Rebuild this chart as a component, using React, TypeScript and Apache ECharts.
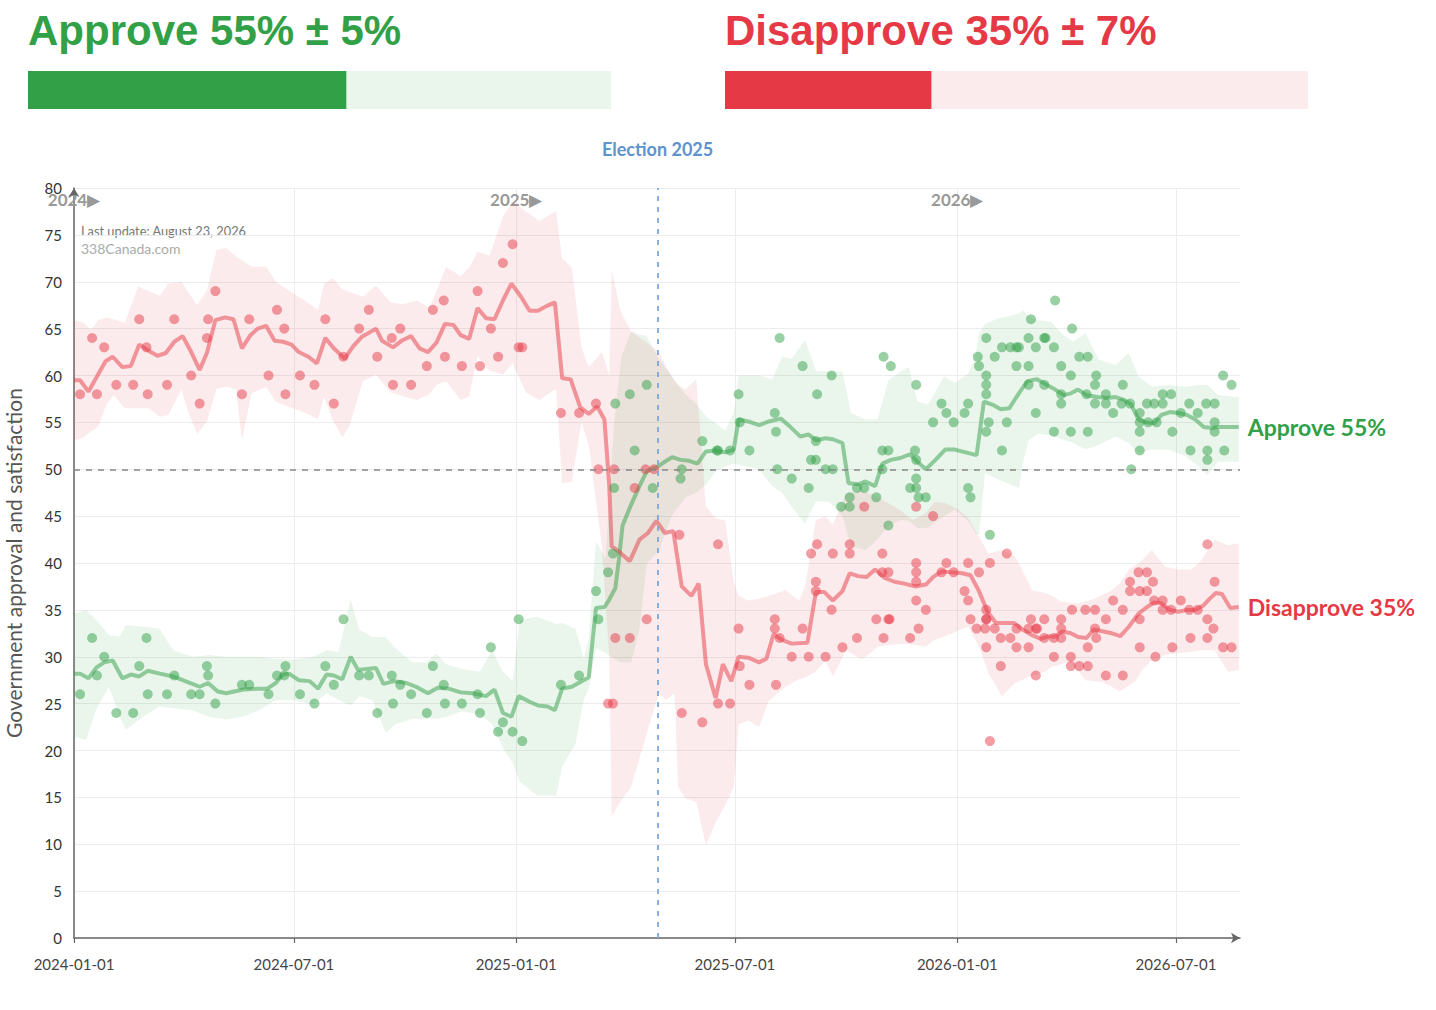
import React, { useEffect, useRef } from "react";
import * as echarts from "echarts";

const GREEN = "#31a046";
const RED = "#e63946";
const CHART_FONT = "Lato, 'Noto Sans', sans-serif";
const HEAD_FONT = "'Liberation Sans', Arial, sans-serif";

// Headline numbers
const approveNow = 54.6;
const approveMoe = 5;
const disapproveNow = 35.4;
const disapproveMoe = 7;

// Axes
const xStart = "2024-01-01";
const xEnd = "2026-08-23";
const xTickDates = ["2024-01-01", "2024-07-01", "2025-01-01", "2025-07-01", "2026-01-01", "2026-07-01"];
const yearMarks = ["2024-01-01", "2025-01-01", "2026-01-01"];
const electionDate = "2025-04-28";
const electionLabel = "Election 2025";
const majorityLine = 50;
const yTitle = "Government approval and satisfaction";
const lastUpdate = "Last update: August 23, 2026";
const sourceText = "338Canada.com";

// Polls
const approvePolls: [string, number][] = [
  ["2024-01-06", 26], ["2024-01-16", 32], ["2024-01-20", 28], ["2024-01-26", 30], ["2024-02-05", 24], ["2024-02-19", 24],
  ["2024-02-24", 29], ["2024-03-01", 32], ["2024-03-02", 26], ["2024-03-18", 26], ["2024-03-24", 28], ["2024-04-07", 26],
  ["2024-04-14", 26], ["2024-04-20", 29], ["2024-04-21", 28], ["2024-04-27", 25], ["2024-05-19", 27], ["2024-05-25", 27],
  ["2024-06-10", 26], ["2024-06-17", 28], ["2024-06-23", 28], ["2024-06-24", 29], ["2024-07-06", 26], ["2024-07-18", 25],
  ["2024-07-27", 29], ["2024-08-03", 27], ["2024-08-11", 34], ["2024-08-24", 28], ["2024-09-01", 28], ["2024-09-08", 24],
  ["2024-09-20", 28], ["2024-09-21", 25], ["2024-09-27", 27], ["2024-10-06", 26], ["2024-10-19", 24], ["2024-10-24", 29],
  ["2024-11-02", 27], ["2024-11-03", 25], ["2024-11-17", 25], ["2024-11-30", 26], ["2024-12-02", 24], ["2024-12-11", 31],
  ["2024-12-17", 22], ["2024-12-21", 23], ["2024-12-29", 22], ["2025-01-03", 34], ["2025-01-06", 21], ["2025-02-07", 27],
  ["2025-02-22", 28], ["2025-03-08", 37], ["2025-03-10", 34], ["2025-03-18", 39], ["2025-03-22", 41], ["2025-03-23", 48],
  ["2025-03-24", 57], ["2025-04-05", 58], ["2025-04-09", 52], ["2025-04-19", 59], ["2025-04-24", 48], ["2025-05-17", 49],
  ["2025-05-18", 50], ["2025-06-04", 53], ["2025-06-16", 52], ["2025-06-17", 52], ["2025-06-27", 52], ["2025-07-04", 58],
  ["2025-07-05", 55], ["2025-07-13", 52], ["2025-08-03", 56], ["2025-08-04", 54], ["2025-08-05", 50], ["2025-08-07", 64],
  ["2025-08-17", 49], ["2025-08-26", 61], ["2025-08-31", 48], ["2025-09-02", 51], ["2025-09-06", 51], ["2025-09-06", 53],
  ["2025-09-07", 58], ["2025-09-14", 50], ["2025-09-19", 60], ["2025-09-20", 50], ["2025-09-27", 46], ["2025-10-04", 46],
  ["2025-10-04", 47], ["2025-10-10", 48], ["2025-10-16", 48], ["2025-10-26", 47], ["2025-10-31", 52], ["2025-10-31", 50],
  ["2025-11-01", 62], ["2025-11-05", 52], ["2025-11-05", 44], ["2025-11-07", 61], ["2025-11-23", 48], ["2025-11-27", 52],
  ["2025-11-28", 59], ["2025-11-28", 51], ["2025-11-28", 49], ["2025-11-28", 48], ["2025-11-30", 47], ["2025-12-06", 47],
  ["2025-12-12", 55], ["2025-12-19", 57], ["2025-12-23", 56], ["2025-12-29", 55], ["2026-01-07", 56], ["2026-01-10", 57],
  ["2026-01-10", 48], ["2026-01-12", 47], ["2026-01-18", 62], ["2026-01-19", 61], ["2026-01-25", 64], ["2026-01-25", 60],
  ["2026-01-25", 59], ["2026-01-25", 58], ["2026-01-25", 54], ["2026-01-27", 55], ["2026-01-28", 43], ["2026-02-01", 62],
  ["2026-02-07", 63], ["2026-02-07", 52], ["2026-02-11", 55], ["2026-02-14", 63], ["2026-02-19", 63], ["2026-02-19", 61],
  ["2026-02-21", 63], ["2026-03-01", 64], ["2026-03-01", 61], ["2026-03-01", 59], ["2026-03-03", 66], ["2026-03-07", 63],
  ["2026-03-07", 56], ["2026-03-14", 64], ["2026-03-14", 59], ["2026-03-15", 64], ["2026-03-22", 63], ["2026-03-22", 54],
  ["2026-03-23", 68], ["2026-03-28", 61], ["2026-03-28", 58], ["2026-03-28", 57], ["2026-04-05", 60], ["2026-04-05", 54],
  ["2026-04-06", 65], ["2026-04-12", 62], ["2026-04-18", 58], ["2026-04-19", 62], ["2026-04-19", 54], ["2026-04-25", 59],
  ["2026-04-25", 57], ["2026-04-26", 60], ["2026-05-04", 58], ["2026-05-04", 57], ["2026-05-10", 56], ["2026-05-17", 57],
  ["2026-05-18", 59], ["2026-05-24", 57], ["2026-05-25", 50], ["2026-06-01", 56], ["2026-06-01", 55], ["2026-06-01", 54],
  ["2026-06-01", 52], ["2026-06-07", 57], ["2026-06-08", 55], ["2026-06-13", 57], ["2026-06-15", 55], ["2026-06-20", 57],
  ["2026-06-20", 58], ["2026-06-27", 58], ["2026-06-28", 54], ["2026-07-05", 56], ["2026-07-12", 57], ["2026-07-13", 52],
  ["2026-07-19", 56], ["2026-07-26", 57], ["2026-07-27", 52], ["2026-07-27", 51], ["2026-08-02", 57], ["2026-08-02", 55],
  ["2026-08-02", 54], ["2026-08-09", 60], ["2026-08-10", 52], ["2026-08-16", 59],
];

const disapprovePolls: [string, number][] = [
  ["2024-01-06", 58], ["2024-01-16", 64], ["2024-01-20", 58], ["2024-01-26", 63], ["2024-02-05", 59], ["2024-02-19", 59],
  ["2024-02-24", 66], ["2024-03-01", 63], ["2024-03-02", 58], ["2024-03-18", 59], ["2024-03-24", 66], ["2024-04-07", 60],
  ["2024-04-14", 57], ["2024-04-20", 64], ["2024-04-21", 66], ["2024-04-27", 69], ["2024-05-19", 58], ["2024-05-25", 66],
  ["2024-06-10", 60], ["2024-06-17", 67], ["2024-06-23", 65], ["2024-06-24", 58], ["2024-07-06", 60], ["2024-07-18", 59],
  ["2024-07-27", 66], ["2024-08-03", 57], ["2024-08-11", 62], ["2024-08-24", 65], ["2024-09-01", 67], ["2024-09-08", 62],
  ["2024-09-20", 64], ["2024-09-21", 59], ["2024-09-27", 65], ["2024-10-06", 59], ["2024-10-19", 61], ["2024-10-24", 67],
  ["2024-11-02", 68], ["2024-11-03", 62], ["2024-11-17", 61], ["2024-11-30", 69], ["2024-12-02", 61], ["2024-12-11", 65],
  ["2024-12-17", 62], ["2024-12-21", 72], ["2024-12-29", 74], ["2025-01-03", 63], ["2025-01-06", 63], ["2025-02-07", 56],
  ["2025-02-22", 56], ["2025-03-08", 57], ["2025-03-10", 50], ["2025-03-18", 25], ["2025-03-22", 25], ["2025-03-23", 50],
  ["2025-03-24", 32], ["2025-04-05", 32], ["2025-04-09", 48], ["2025-04-18", 50], ["2025-04-19", 34], ["2025-04-25", 50],
  ["2025-05-16", 43], ["2025-05-18", 24], ["2025-06-04", 23], ["2025-06-17", 42], ["2025-06-17", 25], ["2025-06-27", 25],
  ["2025-07-04", 33], ["2025-07-05", 29], ["2025-07-13", 27], ["2025-08-03", 34], ["2025-08-03", 33], ["2025-08-04", 27],
  ["2025-08-07", 32], ["2025-08-17", 30], ["2025-08-26", 33], ["2025-08-31", 30], ["2025-09-02", 41], ["2025-09-06", 38],
  ["2025-09-06", 37], ["2025-09-07", 42], ["2025-09-14", 30], ["2025-09-19", 35], ["2025-09-20", 41], ["2025-09-28", 31],
  ["2025-10-04", 42], ["2025-10-04", 41], ["2025-10-10", 32], ["2025-10-16", 46], ["2025-10-26", 34], ["2025-10-31", 41],
  ["2025-10-31", 39], ["2025-11-01", 32], ["2025-11-05", 39], ["2025-11-05", 34], ["2025-11-06", 34], ["2025-11-23", 32],
  ["2025-11-28", 46], ["2025-11-28", 40], ["2025-11-28", 39], ["2025-11-28", 38], ["2025-11-28", 36], ["2025-11-30", 33],
  ["2025-12-06", 35], ["2025-12-12", 45], ["2025-12-19", 39], ["2025-12-23", 40], ["2025-12-29", 39], ["2026-01-07", 37],
  ["2026-01-10", 40], ["2026-01-10", 36], ["2026-01-12", 34], ["2026-01-17", 33], ["2026-01-19", 39], ["2026-01-24", 33],
  ["2026-01-25", 35], ["2026-01-25", 34], ["2026-01-25", 34], ["2026-01-25", 31], ["2026-01-28", 40], ["2026-01-28", 21],
  ["2026-02-01", 33], ["2026-02-06", 32], ["2026-02-06", 29], ["2026-02-11", 41], ["2026-02-14", 32], ["2026-02-19", 33],
  ["2026-02-19", 31], ["2026-03-01", 33], ["2026-03-01", 31], ["2026-03-03", 34], ["2026-03-07", 33], ["2026-03-07", 28],
  ["2026-03-08", 33], ["2026-03-14", 34], ["2026-03-14", 32], ["2026-03-22", 32], ["2026-03-22", 30], ["2026-03-28", 34],
  ["2026-03-28", 33], ["2026-03-28", 32], ["2026-04-05", 30], ["2026-04-05", 29], ["2026-04-06", 35], ["2026-04-12", 29],
  ["2026-04-17", 35], ["2026-04-19", 29], ["2026-04-19", 31], ["2026-04-25", 35], ["2026-04-25", 33], ["2026-04-26", 32],
  ["2026-05-04", 34], ["2026-05-04", 28], ["2026-05-10", 36], ["2026-05-18", 35], ["2026-05-18", 28], ["2026-05-24", 38],
  ["2026-05-24", 37], ["2026-05-31", 39], ["2026-06-01", 37], ["2026-06-01", 34], ["2026-06-01", 31], ["2026-06-07", 39],
  ["2026-06-07", 37], ["2026-06-12", 38], ["2026-06-13", 36], ["2026-06-14", 30], ["2026-06-20", 36], ["2026-06-20", 35],
  ["2026-06-27", 35], ["2026-06-28", 31], ["2026-07-05", 36], ["2026-07-12", 35], ["2026-07-13", 32], ["2026-07-19", 35],
  ["2026-07-27", 42], ["2026-07-27", 34], ["2026-07-27", 32], ["2026-08-01", 33], ["2026-08-02", 38], ["2026-08-09", 31],
  ["2026-08-16", 31],
];

// Trend lines
const approveTrend: [string, number][] = [
  ["2024-01-01", 28.2], ["2024-01-06", 28.2], ["2024-01-13", 27.7], ["2024-01-20", 28.9], ["2024-01-26", 29.4], ["2024-02-02", 29.6],
  ["2024-02-10", 27.7], ["2024-02-17", 28.1], ["2024-02-24", 27.9], ["2024-03-02", 28.5], ["2024-03-12", 28.2], ["2024-03-23", 27.9],
  ["2024-03-31", 27.5], ["2024-04-14", 26.8], ["2024-04-21", 27.2], ["2024-04-29", 26.3], ["2024-05-06", 26.1], ["2024-05-20", 26.5],
  ["2024-06-02", 26.6], ["2024-06-09", 26.6], ["2024-06-16", 27.2], ["2024-06-22", 28.1], ["2024-06-27", 28.2], ["2024-07-05", 27.5],
  ["2024-07-14", 27.4], ["2024-07-21", 26.6], ["2024-07-28", 28.1], ["2024-08-03", 28.0], ["2024-08-10", 27.6], ["2024-08-17", 30.0],
  ["2024-08-23", 28.6], ["2024-09-07", 28.8], ["2024-09-13", 27.1], ["2024-09-22", 27.4], ["2024-10-02", 27.2], ["2024-10-10", 26.8],
  ["2024-10-20", 26.1], ["2024-10-28", 26.7], ["2024-11-06", 26.6], ["2024-11-16", 26.2], ["2024-11-26", 26.1], ["2024-12-07", 25.8],
  ["2024-12-14", 26.5], ["2024-12-21", 24.0], ["2024-12-28", 23.6], ["2025-01-03", 25.8], ["2025-01-12", 25.2], ["2025-01-19", 24.8],
  ["2025-01-27", 24.7], ["2025-02-02", 24.3], ["2025-02-08", 26.6], ["2025-02-16", 26.8], ["2025-02-23", 27.3], ["2025-03-02", 27.8],
  ["2025-03-08", 35.2], ["2025-03-15", 35.3], ["2025-03-19", 36.1], ["2025-03-24", 37.3], ["2025-03-27", 40.4], ["2025-03-30", 44.0],
  ["2025-04-06", 46.2], ["2025-04-13", 48.2], ["2025-04-19", 49.8], ["2025-04-27", 50.2], ["2025-05-04", 50.8], ["2025-05-10", 51.3],
  ["2025-05-17", 51.0], ["2025-05-24", 50.9], ["2025-05-31", 50.6], ["2025-06-07", 51.9], ["2025-06-15", 52.0], ["2025-06-23", 51.8],
  ["2025-06-30", 52.1], ["2025-07-04", 55.3], ["2025-07-12", 55.1], ["2025-07-21", 54.7], ["2025-07-29", 55.1], ["2025-08-08", 55.4],
  ["2025-08-16", 54.5], ["2025-08-24", 53.5], ["2025-08-31", 53.7], ["2025-09-06", 53.1], ["2025-09-14", 53.3], ["2025-09-20", 53.2],
  ["2025-09-28", 52.8], ["2025-10-03", 48.5], ["2025-10-11", 48.4], ["2025-10-17", 48.7], ["2025-10-25", 48.2], ["2025-10-31", 50.6],
  ["2025-11-07", 51.0], ["2025-11-15", 51.2], ["2025-11-23", 51.6], ["2025-11-29", 50.8], ["2025-12-06", 50.0], ["2025-12-14", 51.0],
  ["2025-12-22", 52.1], ["2025-12-30", 52.1], ["2026-01-08", 51.8], ["2026-01-17", 51.5], ["2026-01-23", 57.2], ["2026-01-30", 56.9],
  ["2026-02-06", 56.4], ["2026-02-13", 56.5], ["2026-02-21", 58.1], ["2026-02-28", 59.4], ["2026-03-08", 59.6], ["2026-03-16", 59.0],
  ["2026-03-23", 58.5], ["2026-03-30", 57.9], ["2026-04-05", 58.1], ["2026-04-11", 58.5], ["2026-04-18", 57.9], ["2026-04-27", 57.7],
  ["2026-05-05", 57.6], ["2026-05-12", 57.7], ["2026-05-19", 57.4], ["2026-05-25", 56.9], ["2026-05-31", 55.3], ["2026-06-06", 55.0],
  ["2026-06-13", 54.9], ["2026-06-19", 55.8], ["2026-06-26", 56.1], ["2026-07-03", 56.0], ["2026-07-10", 55.8], ["2026-07-17", 55.3],
  ["2026-07-24", 54.5], ["2026-07-31", 54.4], ["2026-08-05", 54.5], ["2026-08-12", 54.5], ["2026-08-19", 54.5], ["2026-08-22", 54.5],
];

const disapproveTrend: [string, number][] = [
  ["2024-01-01", 59.5], ["2024-01-06", 59.5], ["2024-01-13", 58.3], ["2024-01-20", 59.9], ["2024-01-27", 61.5], ["2024-02-02", 62.0],
  ["2024-02-10", 60.9], ["2024-02-17", 61.0], ["2024-02-24", 63.3], ["2024-03-02", 62.7], ["2024-03-10", 62.1], ["2024-03-17", 62.4],
  ["2024-03-24", 63.6], ["2024-03-31", 64.2], ["2024-04-07", 62.5], ["2024-04-14", 60.6], ["2024-04-20", 62.4], ["2024-04-27", 65.9],
  ["2024-05-05", 66.2], ["2024-05-12", 66.0], ["2024-05-19", 62.9], ["2024-05-26", 64.3], ["2024-06-01", 65.0], ["2024-06-08", 65.3],
  ["2024-06-15", 63.7], ["2024-06-22", 63.6], ["2024-06-29", 63.3], ["2024-07-05", 62.5], ["2024-07-13", 62.0], ["2024-07-20", 61.3],
  ["2024-07-27", 64.0], ["2024-08-03", 62.9], ["2024-08-12", 61.8], ["2024-08-19", 63.1], ["2024-08-26", 64.1], ["2024-09-07", 65.0],
  ["2024-09-12", 63.7], ["2024-09-21", 63.0], ["2024-09-28", 63.7], ["2024-10-06", 64.2], ["2024-10-13", 62.9], ["2024-10-20", 62.5],
  ["2024-10-27", 63.5], ["2024-11-03", 65.5], ["2024-11-10", 65.4], ["2024-11-16", 64.3], ["2024-11-23", 63.9], ["2024-11-30", 67.2],
  ["2024-12-07", 66.1], ["2024-12-14", 66.0], ["2024-12-21", 68.0], ["2024-12-28", 69.8], ["2025-01-05", 68.4], ["2025-01-12", 66.9],
  ["2025-01-19", 66.9], ["2025-01-26", 67.4], ["2025-02-02", 67.8], ["2025-02-08", 59.7], ["2025-02-15", 59.6], ["2025-02-23", 56.6],
  ["2025-03-02", 55.9], ["2025-03-09", 56.7], ["2025-03-15", 55.3], ["2025-03-19", 48.2], ["2025-03-21", 41.8], ["2025-03-25", 41.4],
  ["2025-03-28", 41.1], ["2025-04-05", 40.2], ["2025-04-13", 42.5], ["2025-04-20", 43.2], ["2025-04-27", 44.5], ["2025-05-04", 43.2],
  ["2025-05-11", 43.4], ["2025-05-18", 37.5], ["2025-05-26", 36.5], ["2025-06-01", 37.8], ["2025-06-07", 29.2], ["2025-06-15", 25.6],
  ["2025-06-21", 29.2], ["2025-06-28", 27.4], ["2025-07-04", 30.0], ["2025-07-12", 29.9], ["2025-07-21", 29.4], ["2025-07-27", 29.8],
  ["2025-08-02", 32.4], ["2025-08-09", 31.8], ["2025-08-17", 31.4], ["2025-08-30", 31.5], ["2025-09-06", 36.9], ["2025-09-13", 36.9],
  ["2025-09-20", 36.0], ["2025-09-28", 37.0], ["2025-10-04", 38.9], ["2025-10-11", 38.6], ["2025-10-18", 38.5], ["2025-10-25", 39.3],
  ["2025-11-02", 38.4], ["2025-11-10", 38.0], ["2025-11-18", 37.8], ["2025-11-27", 37.5], ["2025-12-06", 37.7], ["2025-12-12", 38.5],
  ["2025-12-19", 39.1], ["2025-12-28", 39.0], ["2026-01-05", 38.9], ["2026-01-12", 38.7], ["2026-01-19", 37.0], ["2026-01-26", 34.8],
  ["2026-02-02", 33.6], ["2026-02-10", 33.6], ["2026-02-17", 33.6], ["2026-02-24", 32.9], ["2026-03-04", 32.3], ["2026-03-11", 31.9],
  ["2026-03-18", 32.2], ["2026-03-22", 32.1], ["2026-03-29", 32.7], ["2026-04-05", 32.5], ["2026-04-11", 32.1], ["2026-04-18", 32.0],
  ["2026-04-24", 32.9], ["2026-05-02", 32.7], ["2026-05-09", 32.5], ["2026-05-16", 32.2], ["2026-05-23", 33.2], ["2026-05-31", 34.6],
  ["2026-06-06", 35.2], ["2026-06-13", 35.8], ["2026-06-19", 35.7], ["2026-06-26", 35.0], ["2026-07-03", 34.8], ["2026-07-10", 35.0],
  ["2026-07-17", 35.0], ["2026-07-24", 35.5], ["2026-07-29", 36.2], ["2026-08-03", 36.8], ["2026-08-08", 36.7], ["2026-08-15", 35.2],
  ["2026-08-22", 35.3],
];

// Uncertainty bands: [date, lower, upper]
const approveBand: [string, number, number][] = [
  ["2024-01-01", 21.5, 34.6], ["2024-01-11", 21.1, 35.0], ["2024-01-19", 24.3, 34.0], ["2024-01-30", 26.8, 32.3], ["2024-02-08", 23.6, 32.2],
  ["2024-02-13", 22.2, 33.4], ["2024-02-27", 23.6, 33.2], ["2024-03-12", 24.7, 33.0], ["2024-03-23", 24.5, 30.7], ["2024-04-08", 24.3, 30.0],
  ["2024-04-22", 23.6, 30.2], ["2024-05-06", 23.3, 30.0], ["2024-05-20", 23.6, 30.0], ["2024-06-02", 24.3, 30.0], ["2024-06-16", 25.4, 29.8],
  ["2024-06-30", 25.4, 29.7], ["2024-07-17", 24.9, 30.0], ["2024-07-28", 26.1, 30.7], ["2024-08-07", 25.4, 30.5], ["2024-08-17", 24.8, 36.1],
  ["2024-08-24", 25.8, 32.9], ["2024-09-04", 25.4, 32.1], ["2024-09-15", 21.9, 32.1], ["2024-09-23", 22.8, 30.9], ["2024-10-07", 23.4, 29.4],
  ["2024-10-18", 23.4, 29.4], ["2024-10-27", 23.4, 30.3], ["2024-11-04", 23.6, 29.2], ["2024-11-17", 24.2, 28.7], ["2024-12-02", 23.8, 28.4],
  ["2024-12-12", 22.8, 30.7], ["2024-12-21", 20.3, 28.4], ["2024-12-29", 18.7, 27.4], ["2025-01-04", 16.7, 33.9], ["2025-01-18", 15.2, 34.3],
  ["2025-02-03", 15.2, 33.5], ["2025-02-08", 18.3, 33.6], ["2025-02-19", 20.7, 33.0], ["2025-02-26", 25.5, 29.8], ["2025-03-02", 26.6, 32.0],
  ["2025-03-08", 30.9, 42.3], ["2025-03-16", 30.4, 40.5], ["2025-03-23", 29.8, 55.0], ["2025-03-29", 29.4, 62.0], ["2025-04-06", 29.4, 64.7],
  ["2025-04-13", 33.0, 64.4], ["2025-04-19", 39.9, 64.2], ["2025-04-29", 41.3, 61.8], ["2025-05-10", 45.1, 59.9], ["2025-05-21", 47.0, 58.0],
  ["2025-05-30", 47.5, 57.0], ["2025-06-08", 48.5, 55.5], ["2025-06-15", 49.8, 54.9], ["2025-06-23", 50.3, 54.1], ["2025-06-30", 50.6, 56.0],
  ["2025-07-04", 50.5, 60.0], ["2025-07-21", 50.0, 60.0], ["2025-08-01", 48.2, 59.6], ["2025-08-09", 47.5, 62.0], ["2025-08-17", 46.0, 61.8],
  ["2025-08-28", 44.2, 63.8], ["2025-09-06", 46.6, 60.5], ["2025-09-17", 46.5, 60.4], ["2025-09-28", 45.0, 60.4], ["2025-10-05", 41.8, 56.0],
  ["2025-10-17", 41.4, 55.3], ["2025-10-27", 42.5, 55.3], ["2025-11-05", 44.0, 59.5], ["2025-11-16", 44.6, 60.5], ["2025-11-22", 44.5, 60.9],
  ["2025-11-29", 43.7, 57.2], ["2025-12-08", 43.8, 56.9], ["2025-12-21", 45.0, 59.9], ["2025-12-30", 45.7, 59.2], ["2026-01-10", 44.5, 60.2],
  ["2026-01-16", 43.2, 62.0], ["2026-01-19", 43.0, 64.5], ["2026-01-24", 49.6, 65.5], ["2026-02-04", 48.9, 66.1], ["2026-02-12", 48.5, 66.3],
  ["2026-02-21", 48.0, 66.6], ["2026-02-24", 50.5, 67.0], ["2026-03-01", 53.1, 66.3], ["2026-03-09", 53.8, 65.9], ["2026-03-20", 53.6, 65.7],
  ["2026-03-28", 53.2, 64.5], ["2026-04-07", 52.8, 63.6], ["2026-04-17", 52.1, 64.5], ["2026-04-28", 52.6, 61.7], ["2026-05-12", 53.5, 61.1],
  ["2026-05-23", 52.8, 62.4], ["2026-05-31", 51.7, 59.9], ["2026-06-11", 52.1, 58.8], ["2026-06-25", 52.1, 59.0], ["2026-07-09", 51.4, 58.8],
  ["2026-07-20", 50.3, 59.0], ["2026-07-27", 49.4, 59.0], ["2026-08-05", 50.8, 57.9], ["2026-08-22", 50.8, 57.7],
];

const disapproveBand: [string, number, number][] = [
  ["2024-01-01", 53.1, 65.9], ["2024-01-08", 53.3, 65.7], ["2024-01-15", 54.0, 64.9], ["2024-01-21", 54.5, 65.9], ["2024-01-28", 57.0, 66.2],
  ["2024-02-03", 57.9, 66.0], ["2024-02-12", 56.5, 65.6], ["2024-02-23", 56.5, 69.5], ["2024-03-03", 56.5, 69.0], ["2024-03-12", 55.6, 68.5],
  ["2024-03-19", 55.8, 69.8], ["2024-03-30", 58.5, 70.0], ["2024-04-04", 56.3, 69.0], ["2024-04-12", 53.8, 67.5], ["2024-04-20", 55.1, 69.1],
  ["2024-04-28", 58.6, 73.4], ["2024-05-06", 58.8, 73.6], ["2024-05-14", 58.5, 72.7], ["2024-05-19", 53.1, 72.3], ["2024-05-27", 58.1, 71.6],
  ["2024-06-08", 58.8, 71.6], ["2024-06-16", 57.2, 70.0], ["2024-06-30", 56.5, 68.8], ["2024-07-11", 56.0, 67.9], ["2024-07-21", 55.3, 67.0],
  ["2024-07-26", 57.7, 69.8], ["2024-08-02", 55.3, 70.4], ["2024-08-10", 53.4, 69.2], ["2024-08-16", 54.6, 68.9], ["2024-08-27", 59.4, 68.4],
  ["2024-09-07", 60.1, 69.6], ["2024-09-19", 58.2, 67.8], ["2024-09-29", 57.8, 67.6], ["2024-10-11", 57.4, 68.0], ["2024-10-21", 58.0, 67.2],
  ["2024-10-27", 59.0, 69.0], ["2024-11-04", 59.4, 71.6], ["2024-11-16", 57.4, 70.6], ["2024-11-23", 57.8, 71.5], ["2024-11-30", 62.1, 73.2],
  ["2024-12-10", 60.5, 72.8], ["2024-12-21", 60.1, 77.0], ["2024-12-29", 61.3, 78.5], ["2025-01-09", 58.2, 77.5], ["2025-01-20", 57.4, 76.5],
  ["2025-02-03", 58.6, 77.5], ["2025-02-08", 48.5, 72.5], ["2025-02-16", 48.7, 71.5], ["2025-02-24", 55.0, 63.0], ["2025-03-02", 52.6, 60.9],
  ["2025-03-13", 41.6, 62.5], ["2025-03-19", 30.0, 60.0], ["2025-03-21", 13.0, 71.3], ["2025-03-28", 14.5, 67.0], ["2025-04-06", 16.1, 64.7],
  ["2025-04-19", 21.8, 63.5], ["2025-04-29", 26.1, 62.5], ["2025-05-05", 25.4, 61.0], ["2025-05-12", 26.1, 59.4], ["2025-05-15", 16.1, 59.0],
  ["2025-05-21", 14.9, 58.5], ["2025-05-30", 14.5, 59.6], ["2025-06-07", 9.9, 46.0], ["2025-06-15", 12.3, 44.8], ["2025-06-23", 14.2, 44.5],
  ["2025-06-30", 16.1, 38.0], ["2025-07-04", 22.8, 36.5], ["2025-07-12", 23.2, 36.0], ["2025-07-21", 22.5, 36.2], ["2025-07-29", 25.3, 36.5],
  ["2025-08-12", 26.8, 37.1], ["2025-08-23", 27.6, 36.0], ["2025-08-28", 27.8, 37.5], ["2025-09-06", 28.4, 44.6], ["2025-09-14", 29.6, 45.0],
  ["2025-09-20", 27.9, 44.1], ["2025-10-01", 30.7, 47.4], ["2025-10-14", 29.7, 47.8], ["2025-10-28", 31.1, 47.0], ["2025-11-14", 31.4, 45.7],
  ["2025-11-25", 31.3, 44.6], ["2025-12-06", 31.1, 45.3], ["2025-12-13", 31.8, 46.5], ["2025-12-22", 32.2, 46.4], ["2026-01-02", 32.8, 45.7],
  ["2026-01-10", 33.2, 44.8], ["2026-01-19", 31.1, 42.8], ["2026-01-27", 28.2, 41.0], ["2026-02-07", 25.8, 41.4], ["2026-02-18", 27.2, 40.7],
  ["2026-03-04", 28.0, 37.1], ["2026-03-15", 28.4, 36.8], ["2026-03-20", 28.9, 36.5], ["2026-03-28", 29.2, 35.9], ["2026-04-03", 29.5, 35.8],
  ["2026-04-11", 28.5, 35.7], ["2026-04-17", 27.5, 35.9], ["2026-04-25", 27.4, 36.2], ["2026-05-01", 27.3, 36.6], ["2026-05-09", 26.8, 37.1],
  ["2026-05-15", 26.3, 37.8], ["2026-05-23", 26.9, 39.3], ["2026-05-29", 27.5, 39.8], ["2026-06-03", 28.6, 40.3], ["2026-06-11", 29.7, 41.4],
  ["2026-06-22", 30.2, 39.6], ["2026-07-03", 30.4, 39.3], ["2026-07-14", 30.5, 39.3], ["2026-07-22", 30.7, 40.3], ["2026-08-02", 30.7, 42.5],
  ["2026-08-13", 28.4, 41.9], ["2026-08-22", 28.6, 42.1],
];

function ts(s: string): number {
  const [y, m, d] = s.split("-").map(Number);
  return new Date(y, m - 1, d).getTime();
}
function pad(n: number): string {
  return n < 10 ? "0" + n : String(n);
}
function fmtDate(v: number): string {
  const d = new Date(v);
  return `${d.getFullYear()}-${pad(d.getMonth() + 1)}-${pad(d.getDate())}`;
}
function pts(arr: [string, number][]) {
  return arr.map((p) => [ts(p[0]), p[1]]);
}

// Band drawn as one polygon through the axes' own scales (api.coord)
function bandSeries(band: [string, number, number][], color: string) {
  const rows = band.map((b) => [ts(b[0]), b[1], b[2]]);
  return {
    type: "custom",
    data: rows,
    encode: { x: 0, y: [1, 2] },
    silent: true,
    z: 1,
    renderItem: (params: any, api: any) => {
      if (params.dataIndex !== 0) return null;
      const upper = rows.map((r) => api.coord([r[0], r[2]]));
      const lower = rows
        .slice()
        .reverse()
        .map((r) => api.coord([r[0], r[1]]));
      return {
        type: "polygon",
        shape: { points: upper.concat(lower) },
        style: { fill: color, stroke: "none" },
        silent: true,
      };
    },
  };
}

export default function App() {
  const ref = useRef<HTMLDivElement>(null);

  useEffect(() => {
    if (!ref.current) return;
    const chart = echarts.init(ref.current, null, { renderer: "svg" });

    const option: any = {
      animation: false,
      backgroundColor: "#ffffff",
      textStyle: { fontFamily: CHART_FONT },
      grid: [
        { left: 74, top: 188, width: 1166, height: 750, outerBoundsMode: "none", containLabel: false },
        { left: 28, top: 71, width: 583, height: 38, outerBoundsMode: "none", containLabel: false },
        { left: 725, top: 71, width: 583, height: 38, outerBoundsMode: "none", containLabel: false },
      ],
      xAxis: [
        {
          type: "value",
          gridIndex: 0,
          min: ts(xStart),
          max: ts(xEnd),
          axisLine: {
            show: true,
            symbol: ["none", "arrow"],
            symbolSize: [8, 9],
            lineStyle: { color: "#666", width: 1.5 },
          },
          axisTick: {
            show: true,
            customValues: xTickDates.map(ts),
            length: 5,
            lineStyle: { color: "#666", width: 1.2 },
          },
          axisLabel: {
            customValues: xTickDates.map(ts),
            formatter: (v: number) => fmtDate(v),
            color: "#444",
            fontSize: 15,
            margin: 18,
            fontFamily: CHART_FONT,
          },
          splitLine: { show: true, lineStyle: { color: "#ececec", width: 1 } },
        },
        {
          type: "value",
          gridIndex: 0,
          position: "top",
          min: ts(xStart),
          max: ts(xEnd),
          axisLine: { show: false },
          axisTick: { show: false },
          splitLine: { show: false },
          axisLabel: {
            inside: true,
            margin: 3,
            customValues: yearMarks.map(ts),
            formatter: (v: number) => `{y|${new Date(v).getFullYear()}}{t|▶}`,
            rich: {
              y: { fontSize: 17, fontWeight: "bold", color: "#999", fontFamily: CHART_FONT },
              t: { fontSize: 17, color: "#999" },
            },
          },
        },
        { type: "value", gridIndex: 1, min: 0, max: 100, show: false },
        { type: "value", gridIndex: 2, min: 0, max: 100, show: false },
      ],
      yAxis: [
        {
          type: "value",
          gridIndex: 0,
          min: 0,
          max: 80,
          interval: 5,
          name: yTitle,
          nameLocation: "middle",
          nameGap: 50,
          nameTextStyle: { fontSize: 21, color: "#555", fontFamily: CHART_FONT },
          axisLine: {
            show: true,
            symbol: ["none", "arrow"],
            symbolSize: [8, 9],
            lineStyle: { color: "#666", width: 1.5 },
          },
          axisTick: { show: false },
          axisLabel: { color: "#333", fontSize: 15, margin: 12, fontFamily: CHART_FONT },
          splitLine: { show: true, lineStyle: { color: "#ececec", width: 1 } },
        },
        { type: "category", gridIndex: 1, data: ["Approve"], show: false },
        { type: "category", gridIndex: 2, data: ["Disapprove"], show: false },
      ],
      graphic: [
        {
          type: "text",
          left: 28,
          top: 9,
          style: {
            text: `Approve ${Math.round(approveNow)}% ± ${approveMoe}%`,
            fill: GREEN,
            font: `bold 42px ${HEAD_FONT}`,
          },
        },
        {
          type: "text",
          left: 725,
          top: 9,
          style: {
            text: `Disapprove ${Math.round(disapproveNow)}% ± ${disapproveMoe}%`,
            fill: RED,
            font: `bold 42px ${HEAD_FONT}`,
          },
        },
        {
          type: "text",
          left: 81,
          top: 224,
          style: { text: lastUpdate, fill: "#777", font: `12.8px ${CHART_FONT}` },
        },
        {
          type: "text",
          left: 81,
          top: 241,
          style: { text: sourceText, fill: "#aaa", font: `14px ${CHART_FONT}` },
        },
      ],
      series: [
        {
          type: "bar",
          xAxisIndex: 2,
          yAxisIndex: 1,
          data: [approveNow],
          barWidth: 38,
          itemStyle: { color: GREEN },
          showBackground: true,
          backgroundStyle: { color: "rgba(49,160,70,0.1)" },
          silent: true,
        },
        {
          type: "bar",
          xAxisIndex: 3,
          yAxisIndex: 2,
          data: [disapproveNow],
          barWidth: 38,
          itemStyle: { color: RED },
          showBackground: true,
          backgroundStyle: { color: "rgba(230,57,70,0.1)" },
          silent: true,
        },
        bandSeries(approveBand, "rgba(49,160,70,0.1)"),
        bandSeries(disapproveBand, "rgba(230,57,70,0.1)"),
        {
          type: "line",
          name: "Approve",
          data: pts(approveTrend),
          symbol: "none",
          smooth: false,
          lineStyle: { color: "rgba(49,160,70,0.5)", width: 4 },
          z: 3,
          endLabel: {
            show: true,
            formatter: `Approve ${Math.round(approveNow)}%`,
            color: GREEN,
            fontSize: 23,
            fontWeight: "bold",
            fontFamily: CHART_FONT,
            distance: 9,
          },
          markLine: {
            silent: true,
            symbol: ["none", "none"],
            animation: false,
            data: [
              {
                yAxis: majorityLine,
                lineStyle: { color: "#888", type: [6, 6], width: 1.5 },
                label: { show: false },
              },
              {
                xAxis: ts(electionDate),
                lineStyle: { color: "#7ea8d8", type: [5, 6], width: 1.8 },
                label: {
                  show: true,
                  position: "end",
                  distance: 30,
                  formatter: electionLabel,
                  color: "#5e93cc",
                  fontSize: 18,
                  fontWeight: "bold",
                  fontFamily: CHART_FONT,
                },
              },
            ],
          },
        },
        {
          type: "line",
          name: "Disapprove",
          data: pts(disapproveTrend),
          symbol: "none",
          smooth: false,
          lineStyle: { color: "rgba(230,57,70,0.5)", width: 4 },
          z: 3,
          endLabel: {
            show: true,
            formatter: `Disapprove ${Math.round(disapproveNow)}%`,
            color: RED,
            fontSize: 23,
            fontWeight: "bold",
            fontFamily: CHART_FONT,
            distance: 9,
          },
        },
        {
          type: "scatter",
          name: "Approve polls",
          data: pts(approvePolls),
          symbolSize: 10,
          itemStyle: { color: "rgba(49,160,70,0.62)" },
          z: 4,
        },
        {
          type: "scatter",
          name: "Disapprove polls",
          data: pts(disapprovePolls),
          symbolSize: 10,
          itemStyle: { color: "rgba(230,57,70,0.62)" },
          z: 4,
        },
      ],
    };

    chart.setOption(option);
    return () => chart.dispose();
  }, []);

  return (
    <div
      ref={ref}
      style={{ position: "fixed", left: 0, top: 0, width: 1436, height: 1010, background: "#fff" }}
    />
  );
}
